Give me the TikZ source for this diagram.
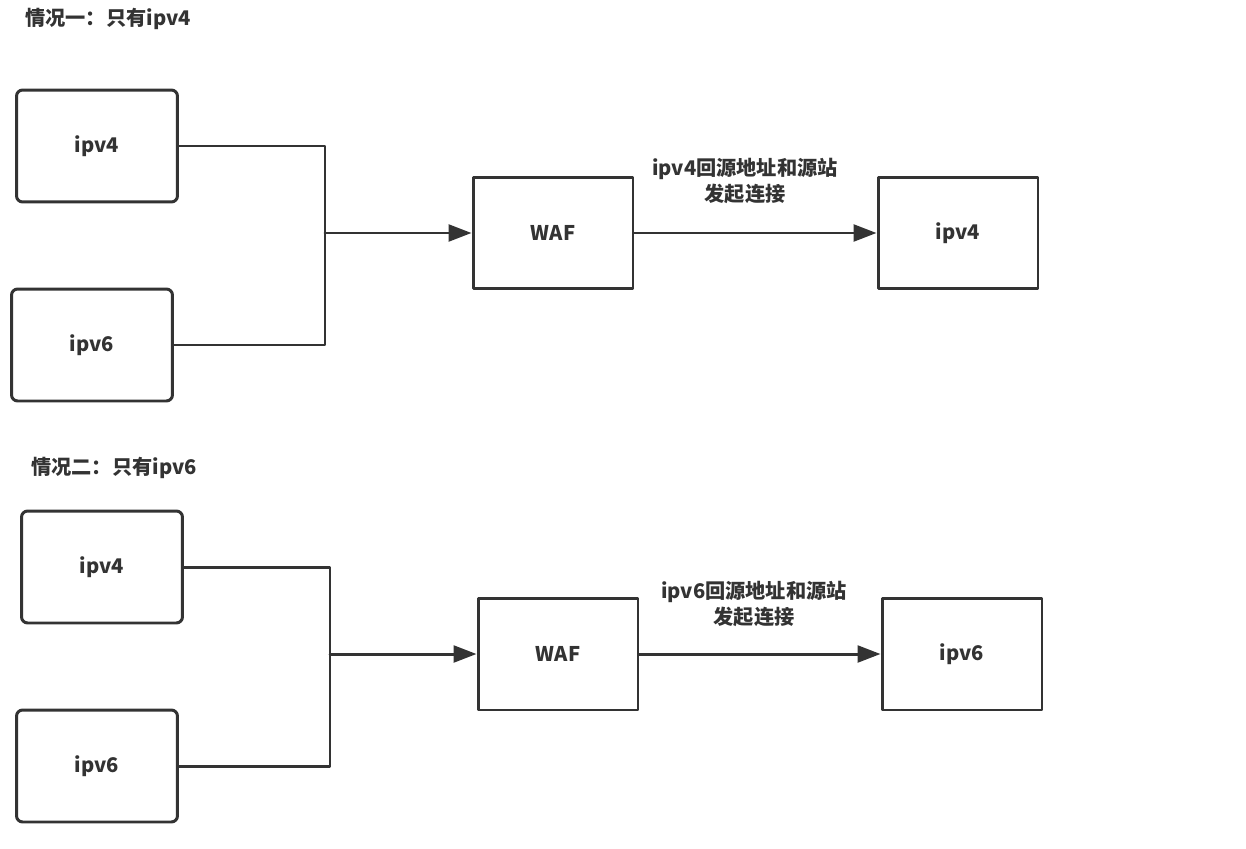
\documentclass[tikz,border=0pt]{standalone}
\usepackage{fontspec}
\setmainfont{Noto Sans CJK SC}
\usepackage{tikz}
\usetikzlibrary{arrows.meta}
\definecolor{ink}{HTML}{333333}

\begin{document}
\begin{tikzpicture}[x=0.02cm, y=-0.02cm, line cap=round, line join=round,
    >={Triangle[length=13pt,width=9.5pt]},
    every node/.style={text=ink, font=\bfseries\fontsize{11.5pt}{15pt}\selectfont},
    srcbox/.style={draw=ink, line width=1.7pt, rounded corners=3.5pt,
        minimum width=3.22cm, minimum height=2.24cm},
    wafbox/.style={draw=ink, line width=1.7pt,
        minimum width=3.2cm, minimum height=2.24cm},
    link/.style={draw=ink, line width=1.7pt}]
    % Canvas size of the reference
    \useasboundingbox (0,0) rectangle (1246,848);

    % Case one: only ipv4
    \node (title1) at (108,19) {情况一：只有ipv4};
    \node[srcbox] (src4a) at (97,146) {ipv4};
    \node[srcbox] (src6a) at (92,345) {ipv6};
    \node[wafbox] (wafa) at (553,233) {WAF};
    \node[wafbox] (orga) at (958,233) {ipv4};
    \coordinate (joina) at (325,233);

    \draw[link] (src4a.east) -| (joina);
    \draw[link] (src6a.east) -| (joina);
    \draw[link, ->] (joina) -- (wafa.west);
    \draw[link, ->] (wafa.east) -- (orga.west);
    \node[align=center] (laba) at (745,181) {ipv4回源地址和源站\\发起连接};

    % Case two: only ipv6
    \node (title2) at (114,468) {情况二：只有ipv6};
    \node[srcbox] (src4b) at (102,567) {ipv4};
    \node[srcbox] (src6b) at (97,766) {ipv6};
    \node[wafbox] (wafb) at (558,654) {WAF};
    \node[wafbox] (orgb) at (962,654) {ipv6};
    \coordinate (joinb) at (330,654);

    \draw[link] (src4b.east) -| (joinb);
    \draw[link] (src6b.east) -| (joinb);
    \draw[link, ->] (joinb) -- (wafb.west);
    \draw[link, ->] (wafb.east) -- (orgb.west);
    \node[align=center] (labb) at (754,604) {ipv6回源地址和源站\\发起连接};

\end{tikzpicture}
\end{document}
